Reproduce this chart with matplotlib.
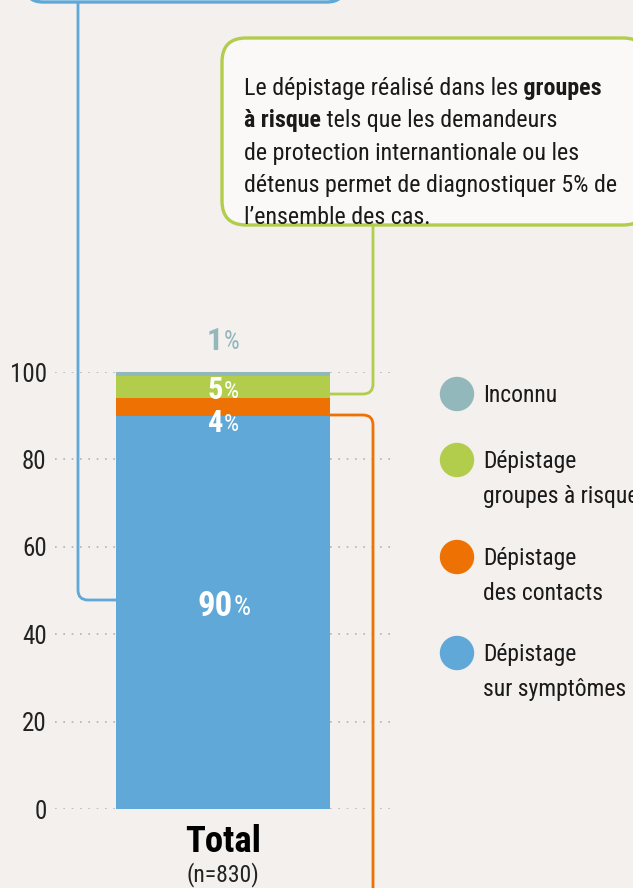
import matplotlib
matplotlib.use("Agg")
import matplotlib.pyplot as plt
from matplotlib.patches import FancyBboxPatch, Circle
from matplotlib.path import Path
from matplotlib.patches import PathPatch

plt.rcParams['font.family'] = ['Roboto Condensed', 'DejaVu Sans']

# donnees
categories = ["Dépistage\nsur symptômes", "Dépistage\ndes contacts",
              "Dépistage\ngroupes à risque", "Inconnu"]
valeurs = [90, 4, 5, 1]
couleurs = ["#5FA8D8", "#EE7203", "#B2CD4C", "#93B8BC"]
yticks = [0, 20, 40, 60, 80, 100]

fond = "#F3F0ED"
W, H = 633, 888

fig = plt.figure(figsize=(W / 100, H / 100), dpi=100, facecolor=fond)

# axe principal (barre)
ax = fig.add_axes([55 / W, (H - 809) / H, 335 / W, 437 / H])
ax.set_facecolor("none")
ax.set_xlim(-0.785, 0.780)
ax.set_ylim(0, 100)
for s in ax.spines.values():
    s.set_visible(False)
ax.set_xticks([])
ax.set_yticks(yticks)
ax.tick_params(axis="y", length=0, pad=6, labelsize=18, labelcolor="#222222")
for t in yticks:
    ax.axhline(t, color="#B5B5B5", lw=1.2, ls=(0, (1, 4)), zorder=0)

bas = 0
for v, c in zip(valeurs, couleurs):
    ax.bar(0, v, bottom=bas, width=1.0, color=c, zorder=2)
    bas += v

# etiquettes des valeurs (nombre gras + %)
pos_etiq = [46.4, 88.3, 95.9, 107.0]
coul_etiq = ["white", "white", "white", "#93B8BC"]
taille = [25, 22, 22, 23]
for v, y, c, fs in zip(valeurs, pos_etiq, coul_etiq, taille):
    dx = 0.045 if v >= 10 else 0.0
    num = ax.text(dx, y, str(v), ha="right", va="center", fontsize=fs,
                  fontweight="bold", color=c, zorder=5, clip_on=False)
    ax.annotate("%", xy=(1, 0), xycoords=num, xytext=(0.5, 1.5),
                textcoords="offset points", ha="left", va="bottom",
                fontsize=fs * 0.78, color=c, zorder=5)

ax.text(0, -7.5, "Total", ha="center", va="center", fontsize=26.5,
        fontweight="bold", color="black", clip_on=False)
ax.text(0, -15.0, "(n=830)", ha="center", va="center", fontsize=17,
        color="#222222", clip_on=False)

# calque en pixels pour encadres, connecteurs et legende
ov = fig.add_axes([0, 0, 1, 1], facecolor="none")
ov.set_xlim(0, W)
ov.set_ylim(H, 0)
ov.axis("off")


def connecteur(pts, couleur, r=10):
    verts = [pts[0]]
    codes = [Path.MOVETO]
    for i in range(1, len(pts) - 1):
        (x0, y0), (x1, y1), (x2, y2) = pts[i - 1], pts[i], pts[i + 1]
        d1 = ((x1 - x0) ** 2 + (y1 - y0) ** 2) ** 0.5
        d2 = ((x2 - x1) ** 2 + (y2 - y1) ** 2) ** 0.5
        a = (x1 - (x1 - x0) * r / d1, y1 - (y1 - y0) * r / d1)
        b = (x1 + (x2 - x1) * r / d2, y1 + (y2 - y1) * r / d2)
        verts += [a, (x1, y1), b]
        codes += [Path.LINETO, Path.CURVE3, Path.CURVE3]
    verts.append(pts[-1])
    codes.append(Path.LINETO)
    ov.add_patch(PathPatch(Path(verts, codes), fill=False, ec=couleur,
                           lw=2.0, zorder=1))


connecteur([(78, 0), (78, 600), (116, 600)], couleurs[0])
connecteur([(373, 224), (373, 394), (330, 394)], couleurs[2])
connecteur([(330, 415), (373, 415), (373, 890)], couleurs[1])

# encadre bleu (coupe en haut)
ov.add_patch(FancyBboxPatch((25, -60), 320, 62,
                            boxstyle="round,pad=0,rounding_size=18",
                            fc="#FAF9F7", ec=couleurs[0], lw=2.4, zorder=3))

# encadre vert
ov.add_patch(FancyBboxPatch((222, 38), 425, 187,
                            boxstyle="round,pad=0,rounding_size=24",
                            fc="#FAF9F7", ec=couleurs[2], lw=2.4, zorder=3))

lignes = [
    [("Le dépistage réalisé dans les", "normal"), (" groupes", "bold")],
    [("à risque", "bold"), (" tels que les demandeurs", "normal")],
    [("de protection internantionale ou les", "normal")],
    [("détenus permet de diagnostiquer 5% de", "normal")],
    [("l\u2019ensemble des cas.", "normal")],
]
y = 86
for morceaux in lignes:
    prec = None
    for txt, poids in morceaux:
        if prec is None:
            prec = ov.text(244, y, txt, ha="left", va="center_baseline",
                           fontsize=17.3, fontweight=poids, color="#1a1a1a",
                           zorder=4)
        else:
            prec = ov.annotate(txt, xy=(1, 0), xycoords=prec, ha="left",
                               va="bottom", fontsize=17.3, fontweight=poids,
                               color="#1a1a1a", zorder=4)
    y += 32.3

# legende
leg_y = [653, 557, 460, 394]
for cat, c, yy in zip(categories, couleurs, leg_y):
    ov.add_patch(Circle((457, yy), 16.5, color=c, zorder=4))
    ov.text(483, yy - 10, cat, ha="left", va="top", fontsize=17,
            color="#1a1a1a", linespacing=1.65, zorder=4)

fig.savefig("out.png", dpi=100, facecolor=fond)
